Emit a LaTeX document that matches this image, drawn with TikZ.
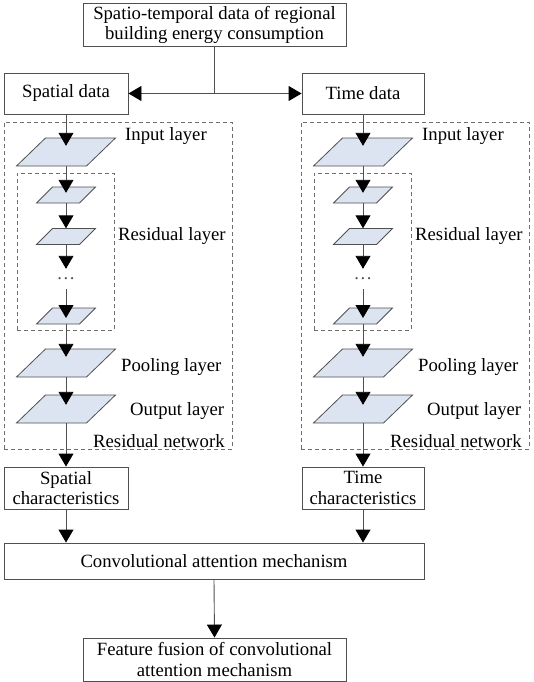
\documentclass[tikz,border=0pt]{standalone}
\usepackage{fontspec}
\setmainfont{Liberation Serif}
\usetikzlibrary{arrows.meta}
\definecolor{ln}{HTML}{505050}
\definecolor{dsh}{HTML}{6E6E6E}
\definecolor{lay}{HTML}{DCE4F2}
\newcommand{\layerpar}[6]{% name, cx, cy, w, h, slant
  \draw[laystyle] (#2,#3) ++({-(#4)/2-(#6)/2},{(#5)/2}) -- ++(#4,0) -- ++(#6,-#5) -- ++(-#4,0) -- cycle;
  \node[inner sep=0pt, minimum width=#4pt, minimum height=#5pt] (#1) at (#2,#3) {};}
\tikzset{
  txt/.style={font=\fontsize{18.7}{20.5}\selectfont},
  box/.style={txt, draw=ln, line width=0.9pt, fill=white, align=center, inner sep=0pt},
  lbl/.style={txt, inner sep=0pt, anchor=west},
  dashbox/.style={draw=dsh, line width=0.9pt, dash pattern=on 4pt off 3pt, inner sep=0pt},
  laystyle/.style={draw=ln, line width=0.8pt, fill=lay},
  conn/.style={draw=ln, line width=0.9pt},
  arr/.style={conn, -{Triangle[width=15pt,length=13pt,color=black]}},
  darr/.style={conn, {Triangle[width=15pt,length=13pt,color=black]}-{Triangle[width=15pt,length=13pt,color=black]}}
}
\begin{document}
\begin{tikzpicture}[x=1pt,y=-1pt]
\useasboundingbox (0,0) rectangle (533,682);
% top boxes
\node[box, minimum width=263pt, minimum height=43pt] (top) at (214.5,25) {Spatio-temporal data of regional\\building energy consumption};
\node[box, minimum width=124pt, minimum height=41pt] (sdL) at (66,93.5) {Spatial data};
\node[box, minimum width=122pt, minimum height=41pt] (sdR) at (363,93.5) {Time data};
\draw[conn] (top.south) -- (top.south |- sdL.east);
\draw[darr] (sdL.east) -- (sdR.west);
% characteristic boxes
\node[box, minimum width=124pt, minimum height=42pt] (scL) at (66,488) {Spatial\\characteristics};
\node[box, minimum width=122pt, minimum height=42pt] (scR) at (363,488) {Time\\characteristics};
\node[box, minimum width=420pt, minimum height=36pt] (conv) at (214,561) {Convolutional attention mechanism};
\node[box, minimum width=263pt, minimum height=43pt] (feat) at (214.5,659.5) {Feature fusion of convolutional\\attention mechanism};
% two residual networks
\foreach \c/\L in {L/66,R/363}{
  \node[dashbox, minimum width=228pt, minimum height=327pt] (net\c) at ({\L+52},285.5) {};
  \node[dashbox, minimum width=97pt, minimum height=157pt] (res\c) at ({\L-0.5},251.5) {};
  \layerpar{in\c}{\L}{152}{70}{28}{29}
  \layerpar{pa\c}{\L}{195}{43}{16}{16}
  \layerpar{pb\c}{\L}{236.5}{43}{16}{16}
  \node[txt, inner sep=0pt, minimum height=20pt, text=ln] (dots\c) at (\L,279) {.\hspace{1.5pt}.\hspace{1.5pt}.};
  \layerpar{pc\c}{\L}{316}{43}{16}{16}
  \layerpar{pool\c}{\L}{363}{70}{28}{29}
  \layerpar{out\c}{\L}{409}{70}{28}{29}
  \node[lbl] at ({\L+59},136) {Input layer};
  \node[lbl] at ({\L+52},236) {Residual layer};
  \node[lbl] at ({\L+55},367) {Pooling layer};
  \node[lbl] at ({\L+64},411) {Output layer};
  \node[lbl] at ({\L+27},441) {Residual network};
  \draw[arr] (sd\c.south) -- ([yshift=-8pt]in\c.north);
  \draw[arr] (in\c.south) -- ([yshift=-6pt]pa\c.north);
  \draw[arr] (pa\c.south) -- (pb\c.north);
  \draw[arr] (pb\c.south) -- (dots\c.north);
  \draw[arr] (dots\c.south) -- ([yshift=-2pt]pc\c.center);
  \draw[arr] (pc\c.south) -- ([yshift=-8pt]pool\c.north);
  \draw[arr] (pool\c.south) -- ([yshift=-10pt]out\c.north);
  \draw[arr] (out\c.south) -- (sc\c.north);
  \draw[arr] (sc\c.south) -- (sc\c.south |- conv.north);
}
\draw[arr] (conv.south) -- (feat.north);
\end{tikzpicture}
\end{document}
